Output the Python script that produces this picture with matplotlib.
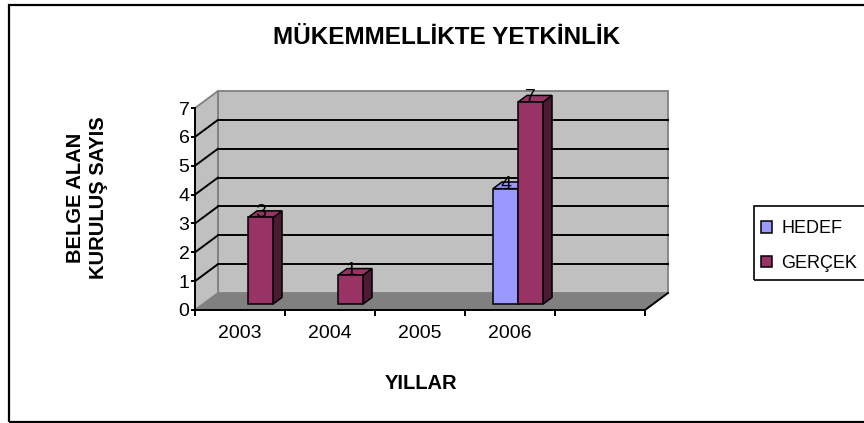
import numpy as np
import matplotlib
matplotlib.use('Agg')
import matplotlib.pyplot as plt
from matplotlib.patches import Polygon, Rectangle, Patch

# ---------------- data ----------------
years = ['2003', '2004', '2005', '2006', '']
hedef = [np.nan, np.nan, np.nan, 4]
gercek = [3, 1, np.nan, 7]
series_names = ['HEDEF', 'GERÇEK']
yticks = [0, 1, 2, 3, 4, 5, 6, 7]
title = 'MÜKEMMELLİKTE YETKİNLİK'
ylabel = 'BELGE ALAN\nKURULUŞ SAYIS'
xlabel = 'YILLAR'

face_colors = ['#9999FF', '#993366']
side_colors = ['#4D4D80', '#4D1A33']

plt.rcParams['font.family'] = ['Liberation Sans', 'DejaVu Sans']

W, H = 864, 423
fig = plt.figure(figsize=(W / 100, H / 100), dpi=100)


def fx(px):
    return px / W


def fy(py):
    return 1 - py / H


# front plane of the 3D box: x from 195 to 645 px, y=0 at 310 px, y=7 at 108 px
ax = fig.add_axes([fx(195), fy(310), (645 - 195) / W, (310 - 108) / H])
ncat = len(years)
x0, x1 = -0.5, ncat - 0.5
ymax = max(yticks)
ax.set_xlim(x0, x1)
ax.set_ylim(0, ymax)
ax.patch.set_visible(False)

# depth offset (data units)
DX = 23 / 90
DY = 17 / (202 / 7)

wall_c = '#C0C0C0'
wall_e = '#808080'
floor_c = '#808080'

# back wall
ax.add_patch(Polygon([(x0 + DX, DY), (x1 + DX, DY), (x1 + DX, ymax + DY), (x0 + DX, ymax + DY)],
                     closed=True, fc=wall_c, ec=wall_e, lw=1.3, clip_on=False, zorder=0.5))
# left wall
ax.add_patch(Polygon([(x0, 0), (x0 + DX, DY), (x0 + DX, ymax + DY), (x0, ymax)],
                     closed=True, fc=wall_c, ec=wall_e, lw=1.3, clip_on=False, zorder=0.5))
# floor
ax.add_patch(Polygon([(x0, 0), (x1, 0), (x1 + DX, DY), (x0 + DX, DY)],
                     closed=True, fc=floor_c, ec='none', clip_on=False, zorder=0.6))
ax.plot([x1, x1 + DX], [0, DY], color='black', lw=1.4, clip_on=False, zorder=0.7)

# gridlines
for v in yticks[1:-1]:
    ax.plot([x0 + DX, x1 + DX], [v + DY, v + DY], color='black', lw=1.4, clip_on=False, zorder=0.8)
    ax.plot([x0, x0 + DX], [v, v + DY], color='black', lw=1.4, clip_on=False, zorder=0.8)

# bars
w = 25 / 90
f0, f1 = 0.35, 0.74
dd = f1 - f0
z = 2
for i in range(len(gercek)):
    for s, vals in enumerate([hedef, gercek]):
        v = vals[i]
        if np.isnan(v):
            continue
        xl = i - w + s * w + f0 * DX
        b = f0 * DY
        top = b + v
        # side face
        ax.add_patch(Polygon([(xl + w, b), (xl + w + dd * DX, b + dd * DY),
                              (xl + w + dd * DX, top + dd * DY), (xl + w, top)],
                             closed=True, fc=side_colors[s], ec='black', lw=1.1,
                             clip_on=False, zorder=z))
        # top face
        ax.add_patch(Polygon([(xl, top), (xl + w, top), (xl + w + dd * DX, top + dd * DY),
                              (xl + dd * DX, top + dd * DY)],
                             closed=True, fc=face_colors[s], ec='black', lw=1.1,
                             clip_on=False, zorder=z))
        # front face
        ax.bar([xl], [v], width=w, bottom=b, align='edge', color=face_colors[s],
               edgecolor='black', linewidth=1.1, zorder=z + 0.1, clip_on=False)
        ax.text(xl + w / 2, top, f'{v:g}', ha='center', va='baseline',
                fontsize=14, zorder=z + 0.5)
        z += 1

# spines / ticks
for sp in ['top', 'right']:
    ax.spines[sp].set_visible(False)
ax.spines['left'].set_bounds(0, ymax)
ax.spines['left'].set_linewidth(1.4)
ax.spines['bottom'].set_linewidth(1.4)
ax.spines['left'].set_zorder(5)
ax.spines['bottom'].set_zorder(5)
ax.set_yticks(yticks)
ax.set_yticklabels([str(t) for t in yticks])
ax.tick_params(axis='y', direction='out', length=3, width=1.4, pad=1, labelsize=14)
ax.set_xticks(np.arange(x0, x1 + 0.01, 1.0))
ax.set_xticklabels([])
ax.set_xticks(np.arange(ncat), minor=True)
ax.set_xticklabels(years, minor=True)
ax.tick_params(axis='x', which='major', direction='out', length=4, width=1.4)
ax.tick_params(axis='x', which='minor', length=0, pad=11, labelsize=14)

# texts
fig.text(fx(447), fy(37), title, ha='center', va='center', fontsize=17.5, fontweight='bold')
fig.text(fx(87), fy(198), ylabel, ha='center', va='center', rotation=90,
         fontsize=14.5, fontweight='bold', multialignment='center', linespacing=1.25)
fig.text(fx(421), fy(383), xlabel, ha='center', va='center', fontsize=14.5, fontweight='bold')

# outer frame
fig.patches.append(Rectangle((fx(9), fy(422)), fx(880) - fx(9), fy(5) - fy(422),
                             transform=fig.transFigure, fill=False, ec='black', lw=1.6))
# legend frame
fig.patches.append(Rectangle((fx(754), fy(280)), fx(890) - fx(754), fy(206) - fy(280),
                             transform=fig.transFigure, fill=False, ec='black', lw=1.2))
handles = [Patch(fc=face_colors[k], ec='black', lw=1.1) for k in range(2)]
fig.legend(handles, series_names, loc='upper left', bbox_to_anchor=(fx(756), fy(215)),
           frameon=False, fontsize=13, handlelength=0.6, handleheight=0.6,
           handletextpad=0.5, labelspacing=0.97, borderpad=0.3, borderaxespad=0)

fig.savefig('out.png', dpi=100)
